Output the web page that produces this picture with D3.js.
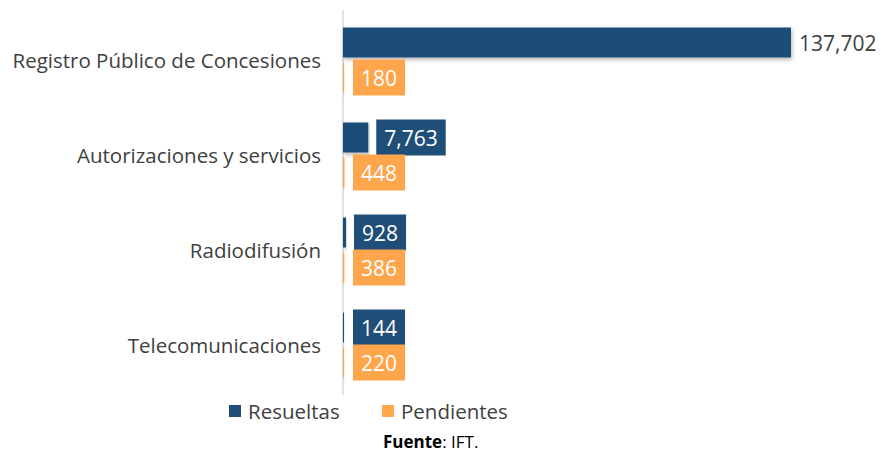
<!DOCTYPE html>
<html lang="es">
<meta charset="utf-8">
<title>Solicitudes</title>
<style>
  body { margin: 0; background: #fff; }
  svg text { font-family: "Open Sans", "Noto Sans", sans-serif; }
</style>
<body>
<svg id="canvas"></svg>
<script src="https://cdn.jsdelivr.net/npm/d3@7"></script>
<script>
    //////////////////// data ////////////////////
    var categories = ["Registro Público de Concesiones", "Autorizaciones y servicios",
                      "Radiodifusión", "Telecomunicaciones"];
    var series     = ["Resueltas", "Pendientes"];
    var resueltas  = [137702, 7763, 928, 144];
    var pendientes = [180, 448, 386, 220];
    var source_b   = "Fuente";
    var source_t   = ": IFT.";
    //////////////////////////////////////////////

    var width  = 881, height = 453;
    var axis_x = 343;
    var blue   = '#1f4e79';
    var orange = '#ffa54c';
    var colors = [blue, orange];

    var svg = d3.select("#canvas")
        .attr('width',  width)
        .attr('height', height);

    var defs = svg.append("defs");
    defs.append("filter").attr('id', 'shadow')
        .attr('x', '-5%').attr('y', '-20%').attr('width', '110%').attr('height', '160%')
        .append("feDropShadow")
        .attr('dx', 1).attr('dy', 2).attr('stdDeviation', 2)
        .attr('flood-color', '#000').attr('flood-opacity', 0.3);

    var x = d3.scaleLinear().domain([0, 137702]).range([axis_x, 791]);
    var y = d3.scaleBand().domain(categories).range([12, 392]).padding(0);
    var ys = d3.scaleBand().domain(series).range([13, 83]);
    var bar_h = 30, box_h = 36;

    var rows = categories.map(function (c, i) {
        return [{cat: c, s: series[0], v: resueltas[i], big: i === 0},
                {cat: c, s: series[1], v: pendientes[i], big: false}];
    });
    var flat = [].concat.apply([], rows);
    var fmt = d3.format(",");

    // axis line
    svg.append("line")
        .attr('x1', axis_x).attr('x2', axis_x)
        .attr('y1', 10).attr('y2', 395)
        .attr('stroke', '#d9d9d9').attr('stroke-width', 1.5);

    // bars
    svg.selectAll("rect.bar").data(flat).enter().append("rect")
        .attr('class', 'bar')
        .attr('x', axis_x)
        .attr('y', function (d) { return y(d.cat) + ys(d.s) + ys.bandwidth() / 2 - bar_h / 2; })
        .attr('width', function (d) { return Math.max(x(d.v) - axis_x, 1); })
        .attr('height', bar_h)
        .attr('fill', function (d) { return colors[series.indexOf(d.s)]; })
        .attr('filter', 'url(#shadow)');

    // labels
    flat.forEach(function (d) {
        var cy = y(d.cat) + ys(d.s) + ys.bandwidth() / 2;
        var x0 = Math.max(x(d.v), axis_x + 2) + 8;
        if (d.big) {
            svg.append("text")
                .attr('x', x0).attr('y', cy)
                .attr('dominant-baseline', 'central')
                .attr('font-size', 21)
                .attr('fill', '#404040')
                .text(fmt(d.v));
            return;
        }
        var t = svg.append("text")
            .attr('y', cy)
            .attr('dominant-baseline', 'central')
            .attr('font-size', 21)
            .attr('fill', '#fff')
            .text(fmt(d.v));
        var tw = t.node().getComputedTextLength();
        var pad = 8;
        svg.insert("rect", function () { return t.node(); })
            .attr('x', x0).attr('y', cy - box_h / 2)
            .attr('width', tw + 2 * pad).attr('height', box_h)
            .attr('fill', colors[series.indexOf(d.s)]);
        t.attr('x', x0 + pad);
    });

    // category labels
    svg.selectAll("text.cat").data(categories).enter().append("text")
        .attr('class', 'cat')
        .attr('x', 321)
        .attr('y', function (d) { return y(d) + y.bandwidth() / 2; })
        .attr('text-anchor', 'end')
        .attr('dominant-baseline', 'central')
        .attr('font-size', 20.5)
        .attr('fill', '#404040')
        .text(function (d) { return d; });

    // legend
    var legend_x = [229, 382];
    series.forEach(function (s, i) {
        svg.append("rect")
            .attr('x', legend_x[i]).attr('y', 405)
            .attr('width', 12).attr('height', 12)
            .attr('fill', colors[i]);
        svg.append("text")
            .attr('x', legend_x[i] + 19).attr('y', 411)
            .attr('dominant-baseline', 'central')
            .attr('font-size', 20.5)
            .attr('fill', '#404040')
            .text(s);
    });

    // source
    var src = svg.append("text")
        .attr('x', 383).attr('y', 448)
        .attr('font-size', 17)
        .attr('fill', '#000');
    src.append("tspan").attr('font-weight', 'bold').text(source_b);
    src.append("tspan").text(source_t);
</script>
</body>
</html>
